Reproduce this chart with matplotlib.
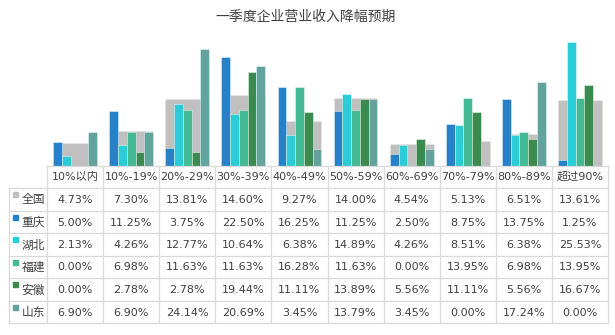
import matplotlib
matplotlib.use("Agg")
import matplotlib.pyplot as plt #Librería para graficar
import numpy as np

plt.rcParams['font.family'] = ['DejaVu Sans', 'Noto Sans CJK SC'] #Números en DejaVu, chino con Noto

categorias = ['10%以内', '10%-19%', '20%-29%', '30%-39%', '40%-49%', '50%-59%', '60%-69%', '70%-79%', '80%-89%', '超过90%']
quanguo = [4.73, 7.30, 13.81, 14.60, 9.27, 14.00, 4.54, 5.13, 6.51, 13.61] #全国
chongqing = [5.00, 11.25, 3.75, 22.50, 16.25, 11.25, 2.50, 8.75, 13.75, 1.25] #重庆
hubei = [2.13, 4.26, 12.77, 10.64, 6.38, 14.89, 4.26, 8.51, 6.38, 25.53] #湖北
fujian = [0.00, 6.98, 11.63, 11.63, 16.28, 11.63, 0.00, 13.95, 6.98, 13.95] #福建
anhui = [0.00, 2.78, 2.78, 19.44, 11.11, 13.89, 5.56, 11.11, 5.56, 16.67] #安徽
shandong = [6.90, 6.90, 24.14, 20.69, 3.45, 13.79, 3.45, 0.00, 17.24, 0.00] #山东

nombres = ['全国', '重庆', '湖北', '福建', '安徽', '山东']
series = [quanguo, chongqing, hubei, fujian, anhui, shandong]
colores = ['#c0c0c0', '#2781c8', '#29cdd8', '#44ba94', '#3b8a50', '#62a39e']

W, H = 615, 335 #Tamaño en pixeles
fig = plt.figure(figsize=(W/100, H/100), dpi=100)

x0, x1 = 47, 608 #Bordes del área de barras
y_base, y_top = 166, 30
ax = fig.add_axes([x0/W, 1-y_base/H, (x1-x0)/W, (y_base-y_top)/H])
n = len(categorias)
x = np.arange(n) + 0.5
ancho_grupo = 0.78
ancho = ancho_grupo/5

ax.bar(x, quanguo, width=ancho_grupo, color=colores[0], edgecolor='#e6e6e6', linewidth=0.6, zorder=1) #全国 como barra ancha de fondo
for k in range(1, 6):
    pos = x - ancho_grupo/2 + ancho*(k-0.5)
    ax.bar(pos, series[k], width=ancho, color=colores[k], edgecolor=(1, 1, 1, 0.5), linewidth=0.6, zorder=2)
ax.set_xlim(0, n)
ax.set_ylim(0, 28)
ax.axis('off')

#Tabla de datos dibujada a mano
at = fig.add_axes([0, 0, 1, 1], zorder=5)
at.set_xlim(0, W)
at.set_ylim(H, 0)
at.axis('off')
col = (x1-x0)/n
filas = [166, 188, 211, 233, 256, 278, 301, 323]
gris = '#d9d9d9'
texto = '#404040'
at.plot([x0, x1], [filas[0], filas[0]], color=gris, lw=0.9)
for yy in filas[1:]:
    at.plot([9, x1], [yy, yy], color=gris, lw=0.9)
for i in range(n+1):
    at.plot([x0+i*col, x0+i*col], [filas[0], filas[-1]], color=gris, lw=0.9)
at.plot([9, 9], [filas[1], filas[-1]], color=gris, lw=0.9)

for i, c in enumerate(categorias):
    at.text(x0+(i+0.5)*col, (filas[0]+filas[1])/2, c, ha='center', va='center', fontsize=8, color=texto)
for r in range(6):
    yc = (filas[r+1]+filas[r+2])/2
    at.add_patch(plt.Rectangle((12.5, filas[r+1]+4), 5, 5, color=colores[r]))
    at.text(21.5, yc+0.5, nombres[r], ha='left', va='center', fontsize=8.5, color=texto)
    for i in range(n):
        at.text(x0+(i+0.5)*col, yc+0.5, f'{series[r][i]:.2f}%', ha='center', va='center', fontsize=8, color=texto)

fig.text(306/W, 1-17/H, '一季度企业营业收入降幅预期', ha='center', va='center', fontsize=10, color='#404040')

fig.savefig('out.png', dpi=100)
